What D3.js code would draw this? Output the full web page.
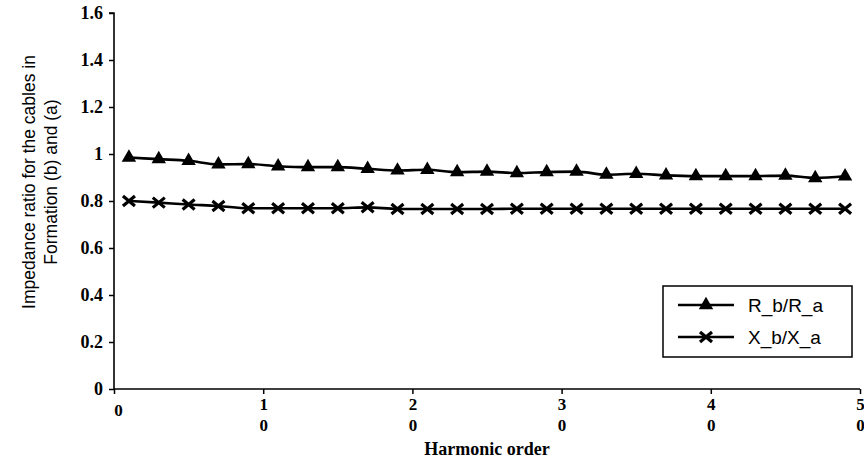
<!DOCTYPE html>
<html><head><meta charset="utf-8">
<script src="https://cdn.jsdelivr.net/npm/d3@7"></script>
<style>body{margin:0;background:#fff}svg{display:block}</style>
</head><body><svg id="c" width="864" height="463"></svg>
<script>
const harmonics = [1,3,5,7,9,11,13,15,17,19,21,23,25,27,29,31,33,35,37,39,41,43,45,47,49];
const rRatio = [0.985,0.978,0.971,0.956,0.957,0.948,0.944,0.944,0.937,0.930,0.933,0.923,0.925,0.919,0.923,0.925,0.912,0.916,0.909,0.906,0.906,0.906,0.908,0.898,0.905];
const xRatio = [0.800,0.793,0.785,0.779,0.769,0.769,0.769,0.769,0.773,0.766,0.766,0.766,0.766,0.767,0.767,0.767,0.767,0.767,0.767,0.767,0.767,0.767,0.767,0.767,0.767];
const yTicks = [0,0.2,0.4,0.6,0.8,1,1.2,1.4,1.6];
const yTickLabels = ["0","0.2","0.4","0.6","0.8","1","1.2","1.4","1.6"];
const xTicks = [0,10,20,30,40,50];
const xTickLabels = [["0"],["1","0"],["2","0"],["3","0"],["4","0"],["5","0"]];
const seriesNames = ["R_b/R_a","X_b/X_a"];

const svg = d3.select("#c");
const x = d3.scaleLinear().domain([0,50]).range([114,860]);
const y = d3.scaleLinear().domain([0,1.6]).range([389,13]);
const serif = "'Liberation Serif','Times New Roman',serif";
const sans = "'Liberation Sans',Arial,sans-serif";

// Y axis
const yAx = svg.append("g").attr("transform","translate(114,0)")
  .call(d3.axisLeft(y).tickValues(yTicks).tickFormat((d,i)=>yTickLabels[i]).tickSize(5).tickPadding(6));
yAx.select(".domain").attr("stroke","#000").attr("stroke-width",1.6).attr("d",`M-5,${y(1.6)}H0V${y(0)}`);
yAx.selectAll(".tick line").attr("stroke","#000").attr("stroke-width",1.5);
yAx.selectAll(".tick text").attr("font-family",serif).attr("font-weight","bold").attr("font-size",18).attr("fill","#000");

// X axis
const xAx = svg.append("g").attr("transform","translate(0,389)")
  .call(d3.axisBottom(x).tickValues(xTicks).tickFormat("").tickSize(5));
xAx.select(".domain").attr("stroke","#000").attr("stroke-width",1.6).attr("d",`M${x(0)},0H${x(50)}`);
xAx.selectAll(".tick line").attr("stroke","#000").attr("stroke-width",1.5);
xAx.selectAll(".tick").each(function(d,i){
  const g = d3.select(this);
  xTickLabels[i].forEach((s,j)=>{
    g.append("text").attr("font-family",serif).attr("font-weight","bold")
      .attr("font-size",17).attr("text-anchor","middle").attr("fill","#000")
      .attr("x",i===0?4:0).attr("y",(i===0?27:21)+j*21).text(s);
  });
});

svg.append("text").attr("x",(x(0)+x(50))/2).attr("y",455).attr("text-anchor","middle")
  .attr("font-family",serif).attr("font-weight","bold").attr("font-size",18).text("Harmonic order");

// Y title
const yt = svg.append("text").attr("transform","translate(0,182) rotate(-90)")
  .attr("text-anchor","middle").attr("font-family",sans).attr("font-size",17.5).attr("fill","#000");
yt.append("tspan").attr("x",0).attr("y",35).text("Impedance ratio for the cables in");
yt.append("tspan").attr("x",0).attr("y",57).text("Formation (b) and (a)");

// Lines
const line = d3.line().x((d,i)=>x(harmonics[i])).y(d=>y(d)).curve(d3.curveMonotoneX);
svg.append("path").attr("d",line(rRatio)).attr("fill","none").attr("stroke","#000").attr("stroke-width",2.6);
svg.append("path").attr("d",line(xRatio)).attr("fill","none").attr("stroke","#000").attr("stroke-width",2.6);

const tri = d3.symbol().type(d3.symbolTriangle).size(90);
svg.append("g").selectAll("path").data(rRatio).join("path")
  .attr("transform",(d,i)=>`translate(${x(harmonics[i])},${y(d)})`).attr("d",tri()).attr("fill","#000");

function cross(g,cx,cy){
  g.append("path").attr("d",`M${cx-6},${cy-5}L${cx+6},${cy+5}M${cx-6},${cy+5}L${cx+6},${cy-5}`)
    .attr("stroke","#000").attr("stroke-width",3.2).attr("fill","none");
}
const cg = svg.append("g");
xRatio.forEach((d,i)=>cross(cg,x(harmonics[i]),y(d)));

// Legend
const lg = svg.append("g");
lg.append("rect").attr("x",663).attr("y",286).attr("width",189).attr("height",71)
  .attr("fill","#fff").attr("stroke","#000").attr("stroke-width",1.5);
const rows = [305,337];
rows.forEach((ry,k)=>{
  lg.append("line").attr("x1",678).attr("x2",734).attr("y1",ry).attr("y2",ry).attr("stroke","#000").attr("stroke-width",2.6);
  if(k===0) lg.append("path").attr("transform",`translate(706,${ry})`).attr("d",tri()).attr("fill","#000");
  else cross(lg,706,ry);
  lg.append("text").attr("x",748).attr("y",ry+7).attr("font-family",sans).attr("font-size",19).text(seriesNames[k]);
});
</script></body></html>
